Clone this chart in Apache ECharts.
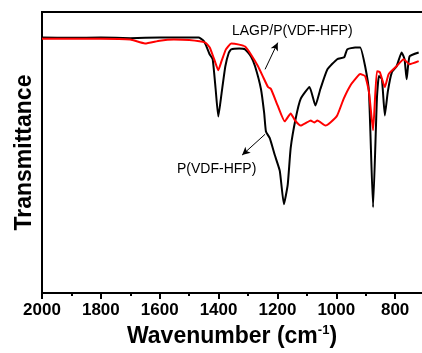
<!DOCTYPE html>
<html>
<head>
<meta charset="utf-8">
<script src="https://cdn.jsdelivr.net/npm/echarts@6/dist/echarts.min.js"></script>
<style>html,body{margin:0;padding:0;background:#fff;overflow:hidden;width:422px;height:353px}#c{width:457px;height:353px}</style>
</head>
<body>
<div id="c"></div>
<script>
// Wavenumbers (cm-1) and transmittance (arbitrary units, 0-100)
const blackWn = [2000,1900,1800,1700,1600,1500,1468,1451,1441,1430,1420,1410,1401,1390,1377,1365,1357,1330,1310,1290,1276,1256,1245,1239,1226,1209,1192,1178,1165,1155,1138,1121,1091,1071,1054,1030,997,973,963,936,919,902,889,875,862,855,845,835,825,811,795,778,768,761,751,720];
const blackT  = [90.9,90.8,90.9,90.7,90.9,90.9,90.9,89.8,87.7,84.9,83.2,72.6,62.8,70.9,80.7,85.6,86.7,87.0,86.7,84.2,80.7,72.6,64,57.5,55.1,49.1,43.5,31.6,38.6,51.6,62.1,69.1,73.3,66.7,72.6,79.6,83.2,83.9,86.7,87.4,87.4,80.7,71.6,30.5,69.1,77.2,76.1,63.2,71.6,78.6,80.7,85.6,83.2,76.1,84.2,85.6];
const redWn = [2000,1800,1700,1650,1600,1552,1500,1445,1430,1415,1401,1390,1375,1357,1330,1310,1290,1266,1250,1232,1222,1199,1175,1155,1140,1121,1100,1087,1075,1064,1037,1020,997,975,953,930,919,902,889,875,862,852,835,822,795,771,751,720];
const redT  = [90.5,90.5,90.2,88.8,89.8,90.2,90.0,89.1,87.4,83.2,79.3,82.5,86.7,88.8,88.4,87.7,84.9,80.7,77.2,73.3,72.6,66.7,61.1,63.9,61.4,59.6,60.7,61.4,60.7,61.4,59.6,60.7,63.2,69.1,73.7,76.8,77.9,77.2,71.6,57.9,78.9,78.6,73.3,77.9,80.7,83.2,81.4,82.5];
const xTicks = [2000,1800,1600,1400,1200,1000,800];
const seriesNames = ['P(VDF-HFP)','LAGP/P(VDF-HFP)'];

const zip = (a,b) => a.map((v,i)=>[v,b[i]]);
const chart = echarts.init(document.getElementById('c'), null, {renderer:'canvas'});
const font = 'Arial, "Liberation Sans", Helvetica, sans-serif';
chart.setOption({
  animation:false,
  backgroundColor:'#fff',
  grid:{left:42, top:12, bottom:56, right:0, show:true, borderColor:'#000', borderWidth:2, containLabel:false},
  xAxis:{type:'value', inverse:true, min:600, max:2000, interval:200,
    axisLine:{show:true, onZero:false, lineStyle:{color:'#000', width:2}},
    axisTick:{show:true, inside:false, length:6, lineStyle:{color:'#000', width:2}},
    minorTick:{show:true, splitNumber:2, length:3, lineStyle:{color:'#000', width:2}},
    splitLine:{show:false},
    axisLabel:{margin:9, color:'#000', fontFamily:font, fontWeight:'bold', fontSize:17,
      formatter:v => xTicks.indexOf(v)>=0 ? String(v) : ''},
    name:'{n|Wavenumber (cm}{s|-1}{n|)}', nameLocation:'middle', nameGap:28,
    nameTextStyle:{padding:[0,32,0,0], rich:{n:{fontFamily:font, fontWeight:'bold', fontSize:23, color:'#000'}, s:{fontFamily:font, fontWeight:'bold', fontSize:13, color:'#000', verticalAlign:'top', padding:[0,0,12,0]}}}
  },
  yAxis:{type:'value', min:0, max:100,
    axisLine:{show:true, lineStyle:{color:'#000', width:2}},
    axisTick:{show:false}, axisLabel:{show:false}, splitLine:{show:false},
    name:'Transmittance', nameLocation:'middle', nameGap:6,
    nameTextStyle:{fontFamily:font, fontWeight:'bold', fontSize:23, color:'#000'}
  },
  series:[
    {name:seriesNames[0], type:'line', data:zip(blackWn,blackT), showSymbol:false, smooth:0.15,
     lineStyle:{color:'#000', width:2}, z:2,
     markLine:{silent:true, symbol:['none','arrow'], symbolSize:[6,8], label:{show:false},
       lineStyle:{color:'#000', width:1, type:'solid'},
       data:[
         [{coord:[1242,79.6]},{coord:[1199,89.1]}],
         [{coord:[1242,56.5]},{coord:[1320,49.1]}]
       ]}
    },
    {name:seriesNames[1], type:'line', data:zip(redWn,redT), showSymbol:false, smooth:0.15,
     lineStyle:{color:'#ff0000', width:2}, z:3}
  ],
  graphic:[
    {type:'text', left:232, top:24, style:{text:seriesNames[1], font:'14px '+font, fill:'#000'}},
    {type:'text', left:177, top:162, style:{text:seriesNames[0], font:'14px '+font, fill:'#000'}}
  ]
});
</script>
</body>
</html>
